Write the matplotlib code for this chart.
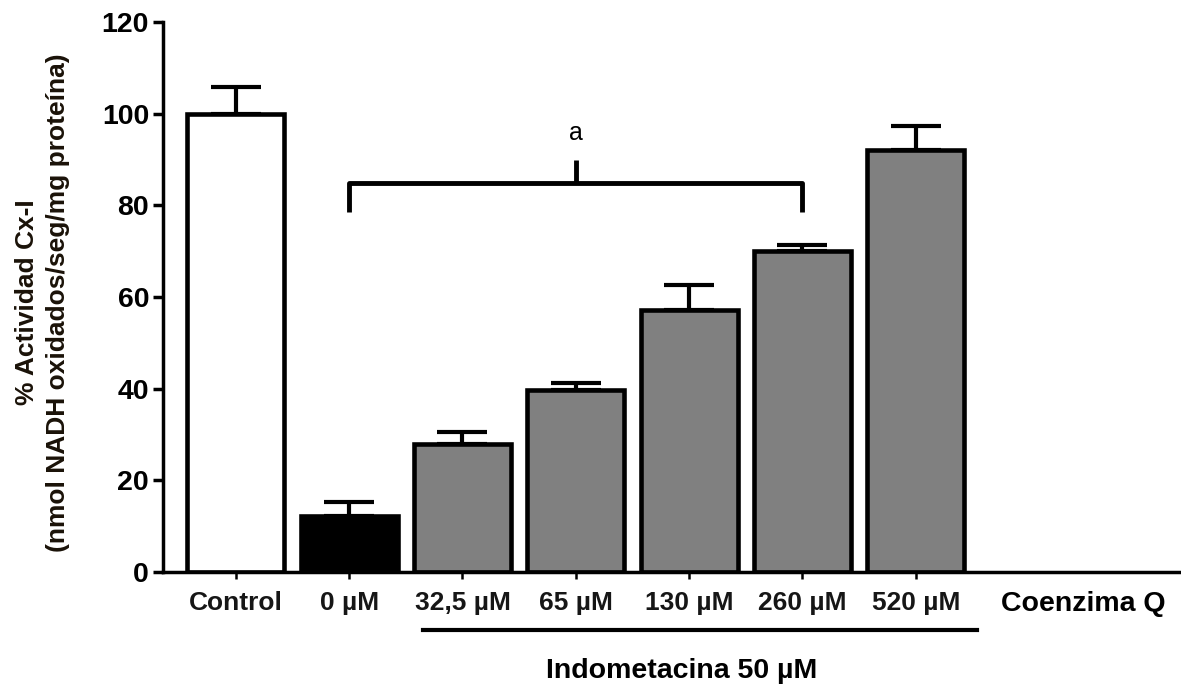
import numpy as np
import matplotlib as mpl

mpl.use('agg')

import matplotlib.pyplot as plt

plt.rcParams['font.family'] = ['Liberation Sans', 'DejaVu Sans']

## groups and measured activity (mean, upper SEM)
labels = ['Control', '0 µM', '32,5 µM', '65 µM', '130 µM', '260 µM', '520 µM']
activity = np.array([100.0, 12.3, 27.9, 39.7, 57.2, 70.0, 92.0])
sem = np.array([5.8, 3.0, 2.6, 1.5, 5.4, 1.3, 5.3])
fill = ['white', 'black', '#808080', '#808080', '#808080', '#808080', '#808080']

x = np.arange(len(labels))

fig = plt.figure(figsize=(11.81, 6.92), dpi=100)
ax = fig.add_axes([0.138, 0.1734, 0.860, 0.7948])

## upper error bars first so the bar outline sits over them
ax.errorbar(x, activity, yerr=[np.zeros_like(sem), sem], fmt='none',
            ecolor='black', elinewidth=3, capsize=18, capthick=3, zorder=1)
ax.bar(x, activity, width=0.855, color=fill, edgecolor='black',
       linewidth=3.3, zorder=2)

ax.set_xlim(-0.643, 8.32)
ax.set_ylim(0, 120)
ax.set_yticks(np.arange(0, 121, 20))
ax.set_xticks(x)
ax.set_xticklabels(labels, fontsize=19, fontweight='bold', color='#161616')

for side in ['top', 'right']:
    ax.spines[side].set_visible(False)
ax.spines['left'].set_linewidth(2.5)
ax.spines['bottom'].set_linewidth(2.5)
ax.tick_params(axis='y', length=7, width=2.5, pad=3, labelsize=20.5)
ax.tick_params(axis='x', length=5, width=1.8, pad=9)
for t in ax.get_yticklabels():
    t.set_fontweight('bold')

ax.set_ylabel('% Actividad Cx-I\n(nmol NADH oxidados/seg/mg proteína)',
              fontsize=19, fontweight='bold', linespacing=1.35, color='#1a1208')
ax.yaxis.set_label_coords(-0.092, 0.49)

## significance bracket over the treated groups
b_lo, b_hi, b_top = 78.5, 84.9, 89.9
ax.plot([x[1], x[1], x[5], x[5]], [b_lo, b_hi, b_hi, b_lo],
        color='black', lw=3.5, solid_capstyle='butt', zorder=3)
mid = (x[1] + x[5]) / 2
ax.plot([mid, mid], [b_hi, b_top], color='black', lw=3.5,
        solid_capstyle='butt', zorder=3)
ax.text(mid, 95.8, 'a', ha='center', va='center', fontsize=18)

## underline for the indomethacin-treated groups
ax.plot([x[2] - 0.35, x[6] + 0.54], [-12.7, -12.7], color='black', lw=3,
        clip_on=False)
ax.text(3.93, -21.5, 'Indometacina 50 µM', ha='center', va='center',
        fontsize=20.5, fontweight='bold')
ax.text(7.48, -7.0, 'Coenzima Q', ha='center', va='center',
        fontsize=20.5, fontweight='bold')

fig.savefig('out.png', dpi=100)
